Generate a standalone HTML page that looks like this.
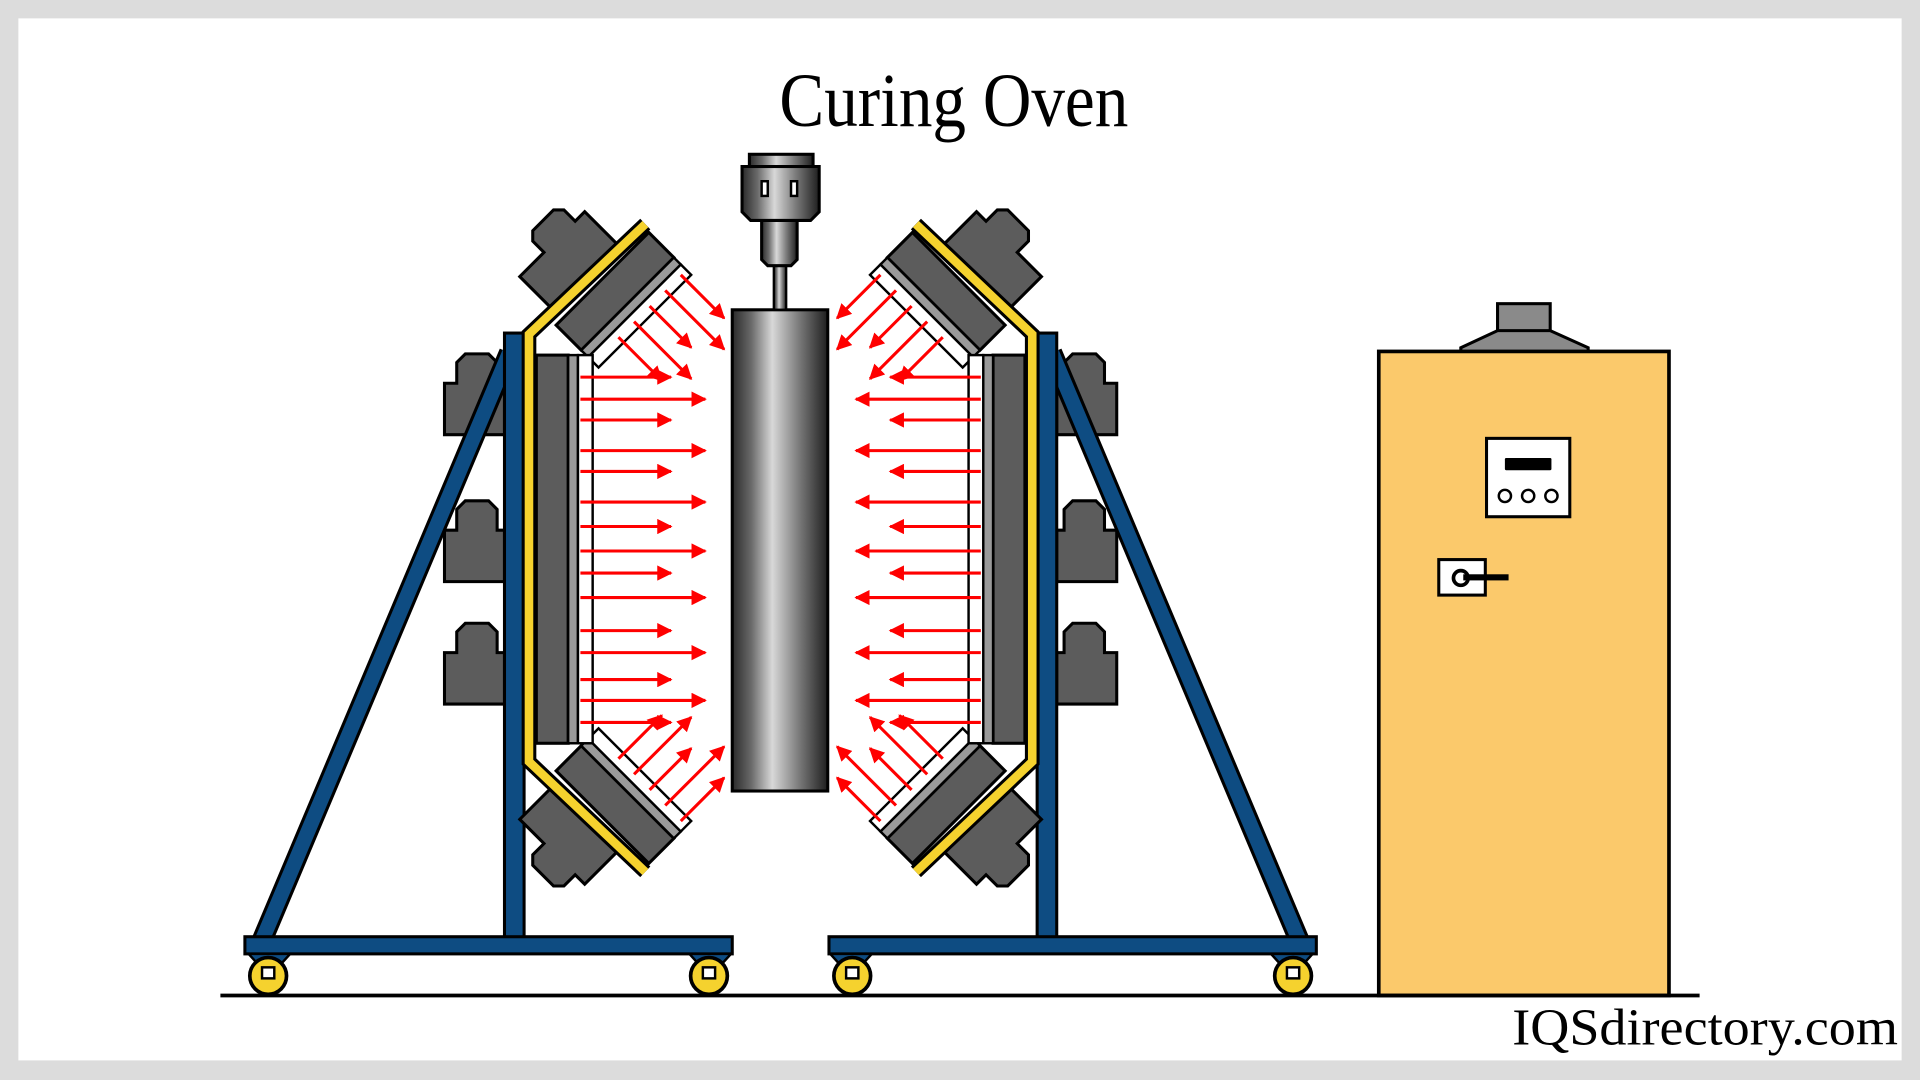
<!DOCTYPE html>
<html><head><meta charset="utf-8"><style>
html,body{margin:0;padding:0;background:#dcdcdc;}
svg{display:block;}
</style></head><body>
<svg width="1920" height="1080" viewBox="0 0 1568 882" xmlns="http://www.w3.org/2000/svg">
<defs>
<marker id="ah" viewBox="0 0 10 10" refX="9" refY="5" markerWidth="5" markerHeight="5" markerUnits="strokeWidth" orient="auto">
<path d="M0,0 L10,5 L0,10 z" fill="#f00"/>
</marker>
<linearGradient id="cyl" x1="0" x2="1" y1="0" y2="0">
<stop offset="0" stop-color="#2a2a2a"/><stop offset="0.2" stop-color="#6a6a6a"/>
<stop offset="0.42" stop-color="#d8d8d8"/><stop offset="0.7" stop-color="#7a7a7a"/><stop offset="1" stop-color="#1e1e1e"/>
</linearGradient>
<g id="bracket">
<path d="M373,296 L380,289 L399,289 L406,296 L406,313 L412,313 L412,355 L363,355 L363,313 L373,313 Z" fill="#5c5c5c" stroke="#000" stroke-width="2.5"/>
</g>
<g id="diag">
<path d="M25,-4 L100,-4 L100,-45 L72,-45 L72,-58 L66,-64 L42,-64 L36,-58 L36,-45 L25,-45 Z" fill="#5c5c5c" stroke="#000" stroke-width="2.5"/>
<rect x="0" y="4" width="107" height="29" fill="#5c5c5c" stroke="#000" stroke-width="2.5"/>
<rect x="0" y="33" width="107" height="8" fill="#9a9a9a" stroke="#000" stroke-width="2"/>
<rect x="0" y="41" width="107" height="12" fill="#fff" stroke="#000" stroke-width="2"/>
<g stroke="#f00" stroke-width="2.5" marker-end="url(#ah)">
<line x1="6" y1="47" x2="6" y2="97"/>
<line x1="24" y1="47" x2="24" y2="115"/>
<line x1="42" y1="47" x2="42" y2="95"/>
<line x1="60" y1="47" x2="60" y2="113"/>
<line x1="78" y1="47" x2="78" y2="97"/>
</g>
</g>
<g id="half">
<use href="#bracket"/>
<use href="#bracket" transform="translate(0,120)"/>
<use href="#bracket" transform="translate(0,220)"/>
<line x1="416" y1="288" x2="214" y2="768" stroke="#000" stroke-width="17"/>
<line x1="416" y1="288" x2="214" y2="768" stroke="#0e4c82" stroke-width="12"/>
<rect x="412" y="272" width="16" height="496" fill="#0e4c82" stroke="#000" stroke-width="2.5"/>
<rect x="200" y="765" width="398" height="14" fill="#0e4c82" stroke="#000" stroke-width="2.5"/>
<path d="M203,779 L237,779 L227,790 L213,790 Z" fill="#0e4c82" stroke="#000" stroke-width="2"/>
<circle cx="219" cy="797" r="15" fill="#f5d22e" stroke="#000" stroke-width="3"/>
<rect x="214" y="790" width="10" height="9" fill="#fff" stroke="#000" stroke-width="2"/>
<path d="M563,779 L597,779 L587,790 L573,790 Z" fill="#0e4c82" stroke="#000" stroke-width="2"/>
<circle cx="579" cy="797" r="15" fill="#f5d22e" stroke="#000" stroke-width="3"/>
<rect x="574" y="790" width="10" height="9" fill="#fff" stroke="#000" stroke-width="2"/>
<g transform="translate(527,187) rotate(135) scale(1,-1)"><use href="#diag"/></g>
<g transform="translate(0,895) scale(1,-1)"><g transform="translate(527,187) rotate(135) scale(1,-1)"><use href="#diag"/></g></g>
<polyline points="527,183 432,273 432,622 527,712" fill="none" stroke="#000" stroke-width="12"/>
<polyline points="527,183 432,273 432,622 527,712" fill="none" stroke="#f5d22e" stroke-width="7"/>
<rect x="438" y="290" width="26" height="317" fill="#5c5c5c" stroke="#000" stroke-width="2.5"/>
<rect x="464" y="290" width="8" height="317" fill="#9a9a9a" stroke="#000" stroke-width="2"/>
<rect x="472" y="290" width="12" height="317" fill="#fff" stroke="#000" stroke-width="2"/>
<g stroke="#f00" stroke-width="2.5" marker-end="url(#ah)">
<line x1="474" y1="308" x2="548" y2="308"/>
<line x1="474" y1="326" x2="576" y2="326"/>
<line x1="474" y1="343" x2="548" y2="343"/>
<line x1="474" y1="368" x2="576" y2="368"/>
<line x1="474" y1="385" x2="548" y2="385"/>
<line x1="474" y1="410" x2="576" y2="410"/>
<line x1="474" y1="430" x2="548" y2="430"/>
<line x1="474" y1="450" x2="576" y2="450"/>
<line x1="474" y1="468" x2="548" y2="468"/>
<line x1="474" y1="488" x2="576" y2="488"/>
<line x1="474" y1="515" x2="548" y2="515"/>
<line x1="474" y1="533" x2="576" y2="533"/>
<line x1="474" y1="555" x2="548" y2="555"/>
<line x1="474" y1="572" x2="576" y2="572"/>
<line x1="474" y1="590" x2="548" y2="590"/>
</g>
</g>
</defs>
<rect x="15" y="15" width="1538" height="851" fill="#fff"/>
<text x="779" y="103" font-family="'Liberation Serif',serif" font-size="62" text-anchor="middle" textLength="285" lengthAdjust="spacingAndGlyphs" fill="#000">Curing Oven</text>
<use href="#half"/>
<use href="#half" transform="translate(1275,0) scale(-1,1)"/>
<rect x="598" y="253" width="78" height="393" fill="url(#cyl)" stroke="#000" stroke-width="2.5"/>
<rect x="632" y="215" width="10" height="38" fill="url(#cyl)" stroke="#000" stroke-width="2"/>
<path d="M622,180 L651,180 L651,212 L646,217 L627,217 L622,212 Z" fill="url(#cyl)" stroke="#000" stroke-width="2.5"/>
<path d="M606,136 L669,136 L669,173 L662,180 L613,180 L606,173 Z" fill="url(#cyl)" stroke="#000" stroke-width="2.5"/>
<rect x="612" y="126" width="52" height="10" fill="url(#cyl)" stroke="#000" stroke-width="2.5"/>
<rect x="622" y="148" width="5" height="12" fill="#fff" stroke="#000" stroke-width="2"/>
<rect x="646" y="148" width="5" height="12" fill="#fff" stroke="#000" stroke-width="2"/>
<rect x="1223" y="248" width="43" height="23" fill="#8a8a8a" stroke="#000" stroke-width="2.5"/>
<path d="M1223,270 L1266,270 L1297,284 L1297,288 L1193,288 L1193,284 Z" fill="#8a8a8a" stroke="#000" stroke-width="2.5"/>
<rect x="1126" y="287" width="237" height="526" fill="#fbc96b" stroke="#000" stroke-width="3"/>
<rect x="1214" y="358" width="68" height="64" fill="#fff" stroke="#000" stroke-width="2.5"/>
<rect x="1229" y="374" width="38" height="10" fill="#000" rx="1"/>
<g fill="#fff" stroke="#000" stroke-width="2"><circle cx="1229" cy="405" r="5"/><circle cx="1248" cy="405" r="5"/><circle cx="1267" cy="405" r="5"/></g>
<rect x="1175" y="457" width="38" height="29" fill="#fff" stroke="#000" stroke-width="2.5"/>
<circle cx="1193" cy="472" r="6" fill="#fff" stroke="#000" stroke-width="3"/>
<rect x="1195" y="469" width="37" height="5" fill="#000"/>
<line x1="180" y1="813" x2="1388" y2="813" stroke="#000" stroke-width="3"/>
<text x="1235" y="853" font-family="'Liberation Serif',serif" font-size="42" textLength="315" lengthAdjust="spacingAndGlyphs" fill="#000">IQSdirectory.com</text>
</svg>
</body></html>
